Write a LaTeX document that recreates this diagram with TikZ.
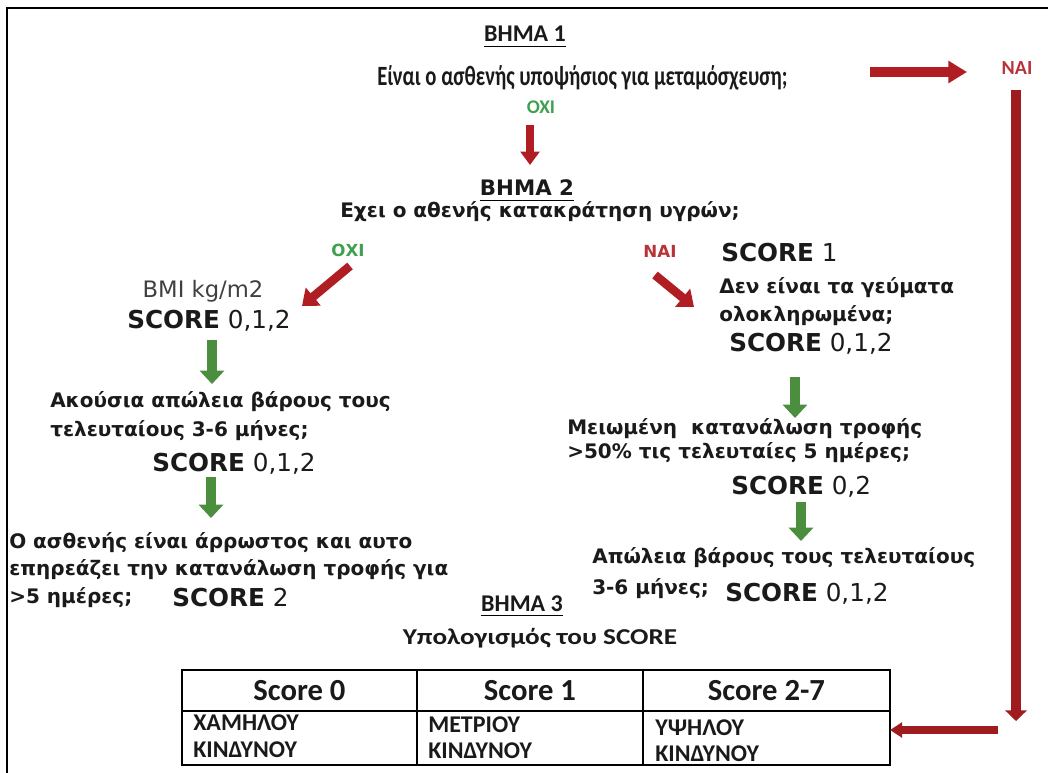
\documentclass[tikz,border=0pt]{standalone}
\usepackage{fontspec}
\setmainfont{Carlito}
\newfontfamily\vf{DejaVu Sans}
\usetikzlibrary{arrows.meta}
\definecolor{dred}{HTML}{9E1C20}
\definecolor{ared}{HTML}{B01E24}
\definecolor{nred}{HTML}{B8323A}
\definecolor{ogreen}{HTML}{3FA04F}
\definecolor{agreen}{HTML}{4B8E3E}
\definecolor{txt}{HTML}{1A1A1A}
\begin{document}
\begin{tikzpicture}[x=0.75pt,y=-0.75pt,
  every node/.style={inner sep=0pt,text=txt},
  cal/.style={font=\fontsize{15.5}{18}\selectfont\bfseries},
  head/.style={font=\fontsize{18}{21}\selectfont\bfseries},
  ver/.style={font=\vf\bfseries\fontsize{15}{18}\selectfont},
  scr/.style={font=\vf\fontsize{18.5}{21}\selectfont},
  yes/.style={font=\vf\bfseries\fontsize{12.5}{14}\selectfont,text=nred},
  no/.style={font=\vf\bfseries\fontsize{12.5}{14}\selectfont,text=ogreen},
  tabh/.style={font=\fontsize{23}{26}\selectfont\bfseries},
  tabb/.style={font=\fontsize{18}{21}\selectfont\bfseries},
  redarrow/.style={draw=ared,line width=6.5pt,-{Triangle[length=11pt,width=17pt]}},
  grarrow/.style={draw=agreen,line width=7pt,-{Triangle[length=10pt,width=18pt]}},
  longarrow/.style={draw=dred,line width=7.5pt,-{Triangle[length=8pt,width=16pt]}},
]
\useasboundingbox (0,0) rectangle (1048,773);
% frame
\draw[line width=2.2pt] (7,773) -- (7,8) -- (1048,8);

% step 1
\node[head,anchor=base] (s1) at (525,42) {ΒΗΜΑ 1};
\draw[line width=0.9pt] ([yshift=-3]s1.south west) -- ([yshift=-3]s1.south east);
\node[cal,anchor=base west] (q1) at (377,86) {\scalebox{1}[1.35]{Είναι ο ασθενής υποψήσιος για μεταμόσχευση;}};
\node[font=\fontsize{14.5}{16}\selectfont\bfseries,text=ogreen,anchor=base] (no1) at (541,114) {ΟΧΙ};
\node[font=\fontsize{15}{17}\selectfont\bfseries,text=nred,anchor=base] (yes1) at (1017,75) {ΝΑΙ};
\coordinate (ra1) at (870,72);
\coordinate (ra2) at (967,72);
\draw[draw=ared,line width=7pt,-{Triangle[length=14pt,width=16pt]}] (ra1) -- (ra2);
\coordinate (d1a) at (530,125);
\coordinate (d1b) at (530,165);
\draw[draw=ared,line width=6pt,-{Triangle[length=10pt,width=14pt]}] (d1a) -- (d1b);

% long right line
\coordinate (v1) at (1016,90);
\coordinate (v2) at (1016,721);
\draw[longarrow] (v1) -- (v2);
\coordinate (h1) at (998,730);

% step 2
\node[ver,font=\vf\bfseries\fontsize{16}{18}\selectfont,anchor=base] (s2) at (527,196) {ΒΗΜΑ 2};
\draw[line width=0.9pt] ([yshift=-3]s2.south west) -- ([yshift=-3]s2.south east);
\node[ver,anchor=base] (q2) at (540,218) {Εχει ο αθενής κατακράτηση υγρών;};
\node[no,anchor=base] (no2) at (348,257) {ΟΧΙ};
\node[yes,anchor=base] (yes2) at (660,258) {ΝΑΙ};
\node[scr,anchor=base west] (sc1) at (721,262) {\textbf{SCORE} 1};
\coordinate (la1) at (350,266);
\coordinate (la2) at (302,306);
\draw[redarrow] (la1) -- (la2);
\coordinate (rb1) at (655,275);
\coordinate (rb2) at (694,307);
\draw[redarrow] (rb1) -- (rb2);

% left column
\node[font=\vf\fontsize{17}{20}\selectfont,text=black!75,anchor=base] (bmi) at (203,298) {BMI kg/m2};
\node[scr,anchor=base] (scl1) at (209,329) {\textbf{SCORE} 0,1,2};
\coordinate (g1a) at (212,340);
\coordinate (g1b) at (212,384);
\draw[grarrow] (g1a) -- (g1b);
\node[ver,anchor=base west] (l2a) at (50,407) {Ακούσια απώλεια βάρους τους};
\node[ver,anchor=base west] (l2b) at (50,436) {τελευταίους 3-6 μήνες;};
\node[scr,anchor=base] (scl2) at (234,471) {\textbf{SCORE} 0,1,2};
\coordinate (g2a) at (211,477);
\coordinate (g2b) at (211,518);
\draw[grarrow] (g2a) -- (g2b);
\node[ver,anchor=base west] (l3a) at (9,548) {Ο ασθενής είναι άρρωστος και αυτο};
\node[ver,anchor=base west] (l3b) at (9,575) {επηρεάζει την κατανάλωση τροφής για};
\node[ver,anchor=base west] (l3c) at (9,603) {>5 ημέρες;};
\node[scr,anchor=base west] (scl3) at (172,606) {\textbf{SCORE} 2};

% right column
\node[ver,anchor=base west] (r1a) at (719,294) {Δεν είναι τα γεύματα};
\node[ver,anchor=base west] (r1b) at (719,321) {ολοκληρωμένα;};
\node[scr,anchor=base west] (scr1) at (729,351) {\textbf{SCORE} 0,1,2};
\coordinate (g3a) at (795,377);
\coordinate (g3b) at (795,418);
\draw[grarrow] (g3a) -- (g3b);
\node[ver,anchor=base west] (r2a) at (567,434) {Μειωμένη\ \ κατανάλωση τροφής};
\node[ver,anchor=base west] (r2b) at (567,458) {>50\% τις τελευταίες 5 ημέρες;};
\node[scr,anchor=base west] (scr2) at (731,494) {\textbf{SCORE} 0,2};
\coordinate (g4a) at (801,502);
\coordinate (g4b) at (801,541);
\draw[grarrow] (g4a) -- (g4b);
\node[ver,anchor=base west] (r3a) at (592,563) {Απώλεια βάρους τους τελευταίους};
\node[ver,anchor=base west] (r3b) at (592,594) {3-6 μήνες;};
\node[scr,anchor=base west] (scr3) at (725,601) {\textbf{SCORE} 0,1,2};

% step 3
\node[head,anchor=base] (s3) at (522,611) {ΒΗΜΑ 3};
\draw[line width=0.9pt] ([yshift=-3]s3.south west) -- ([yshift=-3]s3.south east);
\node[font=\fontsize{17}{20}\selectfont\bfseries,anchor=base] (q3) at (540,644) {\scalebox{1.2}[1]{Υπολογισμός του SCORE}};

% table
\draw[line width=2pt] (182,670) rectangle (890,765);
\draw[line width=1.3pt] (182,711) -- (890,711);
\draw[line width=1.3pt] (417,670) -- (417,765);
\draw[line width=1.3pt] (643,670) -- (643,765);
\node[tabh,anchor=base] (t1) at (299.5,700) {Score 0};
\node[tabh,anchor=base] (t2) at (530,700) {Score 1};
\node[tabh,anchor=base] (t3) at (766.5,700) {Score 2-7};
\node[tabb,anchor=base west] (b1a) at (193,730) {ΧΑΜΗΛΟΥ};
\node[tabb,anchor=base west] (b1b) at (193,757) {ΚΙΝΔΥΝΟΥ};
\node[tabb,anchor=base west] (b2a) at (428,732) {ΜΕΤΡΙΟΥ};
\node[tabb,anchor=base west] (b2b) at (428,758) {ΚΙΝΔΥΝΟΥ};
\node[tabb,anchor=base west] (b3a) at (655,735) {ΥΨΗΛΟΥ};
\node[tabb,anchor=base west] (b3b) at (655,761) {ΚΙΝΔΥΝΟΥ};
\coordinate (tabr) at (890,730);
\draw[draw=dred,line width=5.5pt,-{Triangle[length=9pt,width=11pt]}] (h1) -- (tabr);
\end{tikzpicture}
\end{document}
